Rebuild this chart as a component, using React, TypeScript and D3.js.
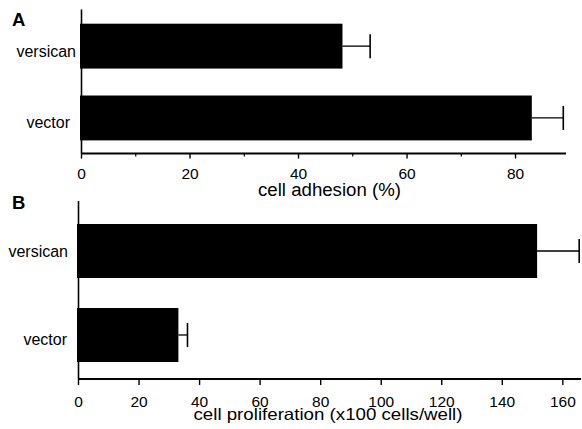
import React from "react";
import * as d3 from "d3";

const categories = ["versican", "vector"];
const adhesionMeans = [48.1, 83.0];
const adhesionErrors = [5.1, 5.8];
const adhesionTicks = [0, 20, 40, 60, 80];
const adhesionMinorTicks = [10, 30, 50, 70];
const prolifMeans = [151.5, 33.0];
const prolifErrors = [13.9, 3.0];
const prolifTicks = [0, 20, 40, 60, 80, 100, 120, 140, 160];

const FONT = "'Liberation Sans', Arial, Helvetica, sans-serif";

type PanelProps = {
  letter: string;
  letterY: number;
  means: number[];
  errors: number[];
  ticks: number[];
  minorTicks: number[];
  domainMax: number;
  xRange: [number, number];
  yRange: [number, number];
  paddingInner: number;
  paddingOuter: number;
  align: number;
  tickLen: number;
  tickLabelY: number;
  title: string;
  titleX: number;
  titleY: number;
  titleSize: number;
  titleLength: number;
  labelOffsets: number[];
  labelDx: number[];
};

function Panel(p: PanelProps) {
  const x = d3.scaleLinear().domain([0, p.domainMax]).range(p.xRange);
  const y = d3
    .scaleBand<string>()
    .domain(categories)
    .range(p.yRange)
    .paddingInner(p.paddingInner)
    .paddingOuter(p.paddingOuter)
    .align(p.align);
  const bw = y.bandwidth();
  const axisY = p.yRange[1];
  const x0 = x(0);
  const capHalf = 12;
  return (
    <g>
      <text x={12} y={p.letterY} fontFamily={FONT} fontWeight="bold" fontSize={18.5}>
        {p.letter}
      </text>
      {categories.map((c, i) => {
        const yc = (y(c) as number) + bw / 2;
        const xe = x(p.means[i] + p.errors[i]);
        return (
          <g key={c}>
            <rect x={x0 - 1.5} y={y(c)} width={x(p.means[i]) - x0 + 1.5} height={bw} fill="#000" />
            <line x1={x(p.means[i])} x2={xe} y1={yc} y2={yc} stroke="#000" strokeWidth={1.3} />
            <line x1={xe} x2={xe} y1={yc - capHalf} y2={yc + capHalf} stroke="#000" strokeWidth={1.6} />
            <text
              x={x0 - p.labelDx[i]}
              y={yc + p.labelOffsets[i]}
              textAnchor="end"
              fontFamily={FONT}
              fontSize={16}
            >
              {c}
            </text>
          </g>
        );
      })}
      <line x1={x0} x2={x0} y1={p.yRange[0]} y2={axisY} stroke="#000" strokeWidth={1.6} />
      <line x1={x0} x2={p.xRange[1]} y1={axisY} y2={axisY} stroke="#000" strokeWidth={1.8} />
      {p.ticks.map((t) => (
        <g key={t}>
          <line x1={x(t)} x2={x(t)} y1={axisY} y2={axisY + p.tickLen} stroke="#000" strokeWidth={1.4} />
          <text x={x(t)} y={p.tickLabelY} textAnchor="middle" fontFamily={FONT} fontSize={15.5}>
            {t}
          </text>
        </g>
      ))}
      {p.minorTicks.map((t) => (
        <line key={"m" + t} x1={x(t)} x2={x(t)} y1={axisY} y2={axisY + 3} stroke="#000" strokeWidth={1.2} />
      ))}
      <text
        x={p.titleX}
        y={p.titleY}
        textAnchor="middle"
        fontFamily={FONT}
        fontSize={p.titleSize}
        textLength={p.titleLength}
        lengthAdjust="spacingAndGlyphs"
      >
        {p.title}
      </text>
    </g>
  );
}

export default function App() {
  return (
    <svg
      width={582}
      height={429}
      style={{ position: "absolute", left: 0, top: 0, background: "#fff" }}
    >
      <Panel
        letter="A"
        letterY={26}
        means={adhesionMeans}
        errors={adhesionErrors}
        ticks={adhesionTicks}
        minorTicks={adhesionMinorTicks}
        domainMax={89.3}
        xRange={[81.5, 566]}
        yRange={[9.5, 153.5]}
        paddingInner={0.375}
        paddingOuter={0.19}
        align={0.52}
        tickLen={5}
        tickLabelY={178.5}
        title="cell adhesion (%)"
        titleX={329.5}
        titleY={196}
        titleSize={18}
        titleLength={143}
        labelOffsets={[11, 10.5]}
        labelDx={[5.5, 11.5]}
      />
      <Panel
        letter="B"
        letterY={209}
        means={prolifMeans}
        errors={prolifErrors}
        ticks={prolifTicks}
        minorTicks={[]}
        domainMax={166}
        xRange={[78.5, 581]}
        yRange={[201, 379]}
        paddingInner={0.357}
        paddingOuter={0.238}
        align={0.575}
        tickLen={6}
        tickLabelY={406.5}
        title="cell proliferation (x100 cells/well)"
        titleX={328}
        titleY={419.5}
        titleSize={16.5}
        titleLength={269}
        labelOffsets={[6, 10]}
        labelDx={[10.5, 11.5]}
      />
    </svg>
  );
}
